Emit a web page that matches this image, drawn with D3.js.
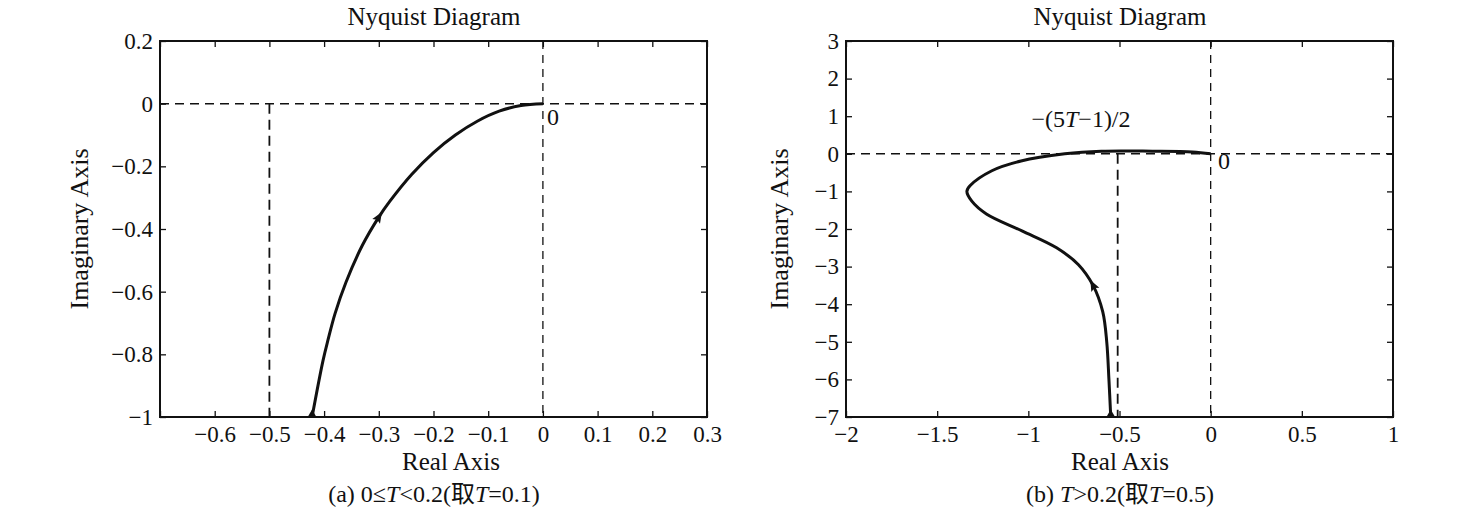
<!DOCTYPE html>
<html>
<head>
<meta charset="utf-8">
<script src="https://cdn.jsdelivr.net/npm/d3@7"></script>
<style>
  body { margin: 0; background: #fff; }
  text { font-family: "Liberation Serif", "Noto Sans CJK SC", serif; fill: #111; }
</style>
</head>
<body>
<svg id="chart" width="1480" height="510"></svg>
<script>
// panel (a): T = 0.1 (real, imaginary)
var reA = [-0.422, -0.402, -0.393, -0.380, -0.360, -0.330, -0.300, -0.280, -0.240, -0.200, -0.160, -0.120, -0.080, -0.040, 0]
var imA = [-1.000, -0.820, -0.755, -0.670, -0.570, -0.452, -0.362, -0.312, -0.226, -0.156, -0.100, -0.056, -0.024, -0.006, 0]
// panel (b): T = 0.5
var reB = [-0.548, -0.558, -0.570, -0.592, -0.645, -0.725, -0.845, -1.035, -1.230, -1.310, -1.337, -1.320, -1.200, -1.040, -0.800, -0.600, -0.320, -0.100, 0]
var imB = [-7.00, -6.00, -5.00, -4.20, -3.50, -2.95, -2.50, -2.05, -1.60, -1.26, -1.00, -0.85, -0.45, -0.19, 0.00, 0.07, 0.07, 0.05, 0]

// index of the point where the direction arrow sits
var arrowA = 6
var arrowB = 4

// asymptote lines
var asymA = -0.5
var asymB = -0.51

// ticks
var xTicksA = [-0.7, -0.6, -0.5, -0.4, -0.3, -0.2, -0.1, 0, 0.1, 0.2, 0.3]
var xLabelsA = ["", "−0.6", "−0.5", "−0.4", "−0.3", "−0.2", "−0.1", "0", "0.1", "0.2", "0.3"]
var yTicksA = [0.2, 0, -0.2, -0.4, -0.6, -0.8, -1]
var yLabelsA = ["0.2", "0", "−0.2", "−0.4", "−0.6", "−0.8", "−1"]
var xTicksB = [-2, -1.5, -1, -0.5, 0, 0.5, 1]
var xLabelsB = ["−2", "−1.5", "−1", "−0.5", "0", "0.5", "1"]
var yTicksB = [3, 2, 1, 0, -1, -2, -3, -4, -5, -6, -7]
var yLabelsB = ["3", "2", "1", "0", "−1", "−2", "−3", "−4", "−5", "−6", "−7"]

var svg = d3.select("#chart")
var top0 = 41, bottom0 = 417

function panel(opt) {
  var x = d3.scaleLinear().domain(opt.xDomain).range([opt.left, opt.right])
  var y = d3.scaleLinear().domain(opt.yDomain).range([bottom0, top0])
  var g = svg.append("g")

  // dashed reference lines
  var dash = g.append("g").attr("stroke", "#111").attr("fill", "none")
  dash.append("line")
    .attr("x1", opt.left).attr("x2", opt.right)
    .attr("y1", y(0)).attr("y2", y(0))
    .attr("stroke-width", 1.5).attr("stroke-dasharray", "9,6")
  dash.append("line")
    .attr("x1", x(0)).attr("x2", x(0))
    .attr("y1", top0).attr("y2", bottom0)
    .attr("stroke-width", 1.3).attr("stroke-dasharray", "8,6")
  dash.append("line")
    .attr("x1", x(opt.asym)).attr("x2", x(opt.asym))
    .attr("y1", y(0)).attr("y2", bottom0)
    .attr("stroke-width", 1.8).attr("stroke-dasharray", "10,6")

  // axes, ticks pointing inward on all four sides
  var ax = function (axis, ty, tx) {
    var a = g.append("g").attr("transform", "translate(" + (tx || 0) + "," + (ty || 0) + ")").call(axis)
    a.select(".domain").remove()
    a.selectAll("line").attr("stroke", "#111").attr("stroke-width", 1.3)
    a.selectAll("text").attr("fill", "#111").style("font-size", "23px").style("font-family", null)
    return a
  }
  ax(d3.axisBottom(x).tickValues(opt.xTicks).tickSize(-6).tickPadding(9)
       .tickFormat(function (d, i) { return opt.xLabels[i] }), bottom0)
  ax(d3.axisTop(x).tickValues(opt.xTicks).tickSize(-6).tickFormat(""), top0)
  ax(d3.axisLeft(y).tickValues(opt.yTicks).tickSize(-6).tickPadding(7)
       .tickFormat(function (d, i) { return opt.yLabels[i] }), 0, opt.left)
  ax(d3.axisRight(y).tickValues(opt.yTicks).tickSize(-6).tickFormat(""), 0, opt.right)

  g.append("rect")
    .attr("x", opt.left).attr("y", top0)
    .attr("width", opt.right - opt.left).attr("height", bottom0 - top0)
    .attr("fill", "none").attr("stroke", "#111").attr("stroke-width", 2)

  // Nyquist curve
  var pts = opt.re.map(function (r, i) { return [x(r), y(opt.im[i])] })
  g.append("path")
    .attr("d", d3.line().curve(d3.curveCatmullRom)(pts))
    .attr("fill", "none").attr("stroke", "#111").attr("stroke-width", 3)
    .attr("stroke-linejoin", "round")

  // arrow along the curve
  var k = opt.arrow
  var ang = Math.atan2(pts[k + 1][1] - pts[k - 1][1], pts[k + 1][0] - pts[k - 1][0]) * 180 / Math.PI
  g.append("path")
    .attr("d", "M6,0L-5,-4.5L-3,0L-5,4.5Z")
    .attr("transform", "translate(" + pts[k][0] + "," + pts[k][1] + ") rotate(" + ang + ")")
    .attr("fill", "#111")
  // start marker
  g.append("path")
    .attr("d", d3.symbol().type(d3.symbolTriangle).size(40)())
    .attr("transform", "translate(" + pts[0][0] + "," + (pts[0][1] - 2) + ")")
    .attr("fill", "#111")

  // labels
  g.append("text").attr("x", opt.titleX).attr("y", 25)
    .attr("text-anchor", "middle").style("font-size", "25px").text("Nyquist Diagram")
  g.append("text").attr("x", opt.xLabelX).attr("y", 470)
    .attr("text-anchor", "middle").style("font-size", "25px").text("Real Axis")
  g.append("text")
    .attr("transform", "translate(" + opt.yLabelX + "," + ((top0 + bottom0) / 2) + ") rotate(-90)")
    .attr("text-anchor", "middle").style("font-size", "26px").text("Imaginary Axis")
  g.append("text").attr("x", opt.zeroX).attr("y", opt.zeroY)
    .style("font-size", "24px").text("0")

  var cap = g.append("text").attr("x", opt.titleX).attr("y", 502)
    .attr("text-anchor", "middle").style("font-size", "24px")
  opt.caption.forEach(function (c) {
    cap.append("tspan").style("font-style", c[1] ? "italic" : "normal").text(c[0])
  })
  return { x: x, y: y, g: g }
}

panel({
  left: 160, right: 707, xDomain: [-0.7, 0.3], yDomain: [-1, 0.2],
  xTicks: xTicksA, xLabels: xLabelsA, yTicks: yTicksA, yLabels: yLabelsA,
  re: reA, im: imA, arrow: arrowA, asym: asymA,
  titleX: 434, xLabelX: 451, yLabelX: 88, zeroX: 547, zeroY: 125,
  caption: [["(a) 0≤", 0], ["T", 1], ["<0.2(取", 0], ["T", 1], ["=0.1)", 0]]
})

var pb = panel({
  left: 846, right: 1393, xDomain: [-2, 1], yDomain: [-7, 3],
  xTicks: xTicksB, xLabels: xLabelsB, yTicks: yTicksB, yLabels: yLabelsB,
  re: reB, im: imB, arrow: arrowB, asym: asymB,
  titleX: 1120, xLabelX: 1120, yLabelX: 788, zeroX: 1218, zeroY: 169,
  caption: [["(b) ", 0], ["T", 1], [">0.2(取", 0], ["T", 1], ["=0.5)", 0]]
})

// asymptote label
var lab = pb.g.append("text").attr("x", 1081).attr("y", 127)
  .attr("text-anchor", "middle").style("font-size", "24px")
lab.append("tspan").text("−(5")
lab.append("tspan").style("font-style", "italic").text("T")
lab.append("tspan").text("−1)/2")
</script>
</body>
</html>
